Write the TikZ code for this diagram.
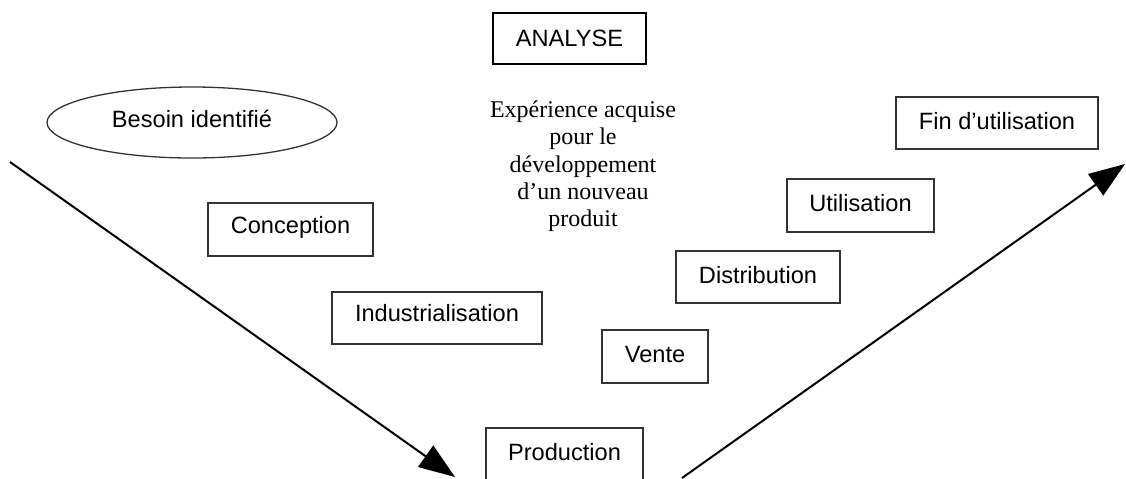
\documentclass[tikz,border=0pt]{standalone}
\usepackage{fontspec}
\newfontfamily\sansf{Liberation Sans}
\newfontfamily\seriff{Liberation Serif}
\usetikzlibrary{arrows.meta,shapes.geometric}
\begin{document}
\begin{tikzpicture}[x=0.5pt,y=-0.5pt,
  box/.style={draw=black!80, line width=0.65pt, inner sep=0pt, align=center,
    font=\sansf\fontsize{11.8pt}{14pt}\selectfont},
  flow/.style={line width=1pt, -{Triangle[length=18pt,width=13pt]}}]
\clip (0,0) rectangle (1126,478);
\fill[white] (0,0) rectangle (1126,478);
% boxes
\node[box, minimum width=76.5pt, text height=16.5pt, text depth=9pt, draw=black] (analyse) at (569.5,38.5) {ANALYSE};
\node[box, shape=ellipse, minimum width=145pt, minimum height=35.5pt, text height=9pt, text depth=4.5pt] (besoin) at (192,122.5) {Besoin identifié};
\node[box, minimum width=82.5pt, text height=15pt, text depth=11.5pt] (conception) at (290.5,229.5) {Conception};
\node[box, minimum width=105pt, text height=14.85pt, text depth=11.15pt] (indus) at (437,318) {Industrialisation};
\node[box, minimum width=53pt, text height=16pt, text depth=10.5pt] (vente) at (655,356.5) {Vente};
\node[box, minimum width=78.5pt, text height=16pt, text depth=10.5pt] (production) at (564.5,454.5) {Production};
\node[box, minimum width=82pt, text height=16pt, text depth=10pt] (distribution) at (758,277) {Distribution};
\node[box, minimum width=73.5pt, text height=16pt, text depth=10.5pt] (utilisation) at (860.5,205.5) {Utilisation};
\node[box, minimum width=101pt, text height=16pt, text depth=10pt] (fin) at (997,123) {Fin d’utilisation};
% free text
\node[align=center, inner sep=0pt, font=\seriff\fontsize{12pt}{13.55pt}\selectfont] (exp) at (583,166.3)
  {Expérience acquise\\pour le\\développement\\d’un nouveau\\produit};
% arrows
\coordinate (a1s) at (10,162);
\coordinate (a1e) at (455,477);
\coordinate (a2s) at (682,478);
\coordinate (a2e) at (1125,164);
\draw[flow] (a1s) -- (a1e);
\draw[flow] (a2s) -- (a2e);
\end{tikzpicture}
\end{document}
